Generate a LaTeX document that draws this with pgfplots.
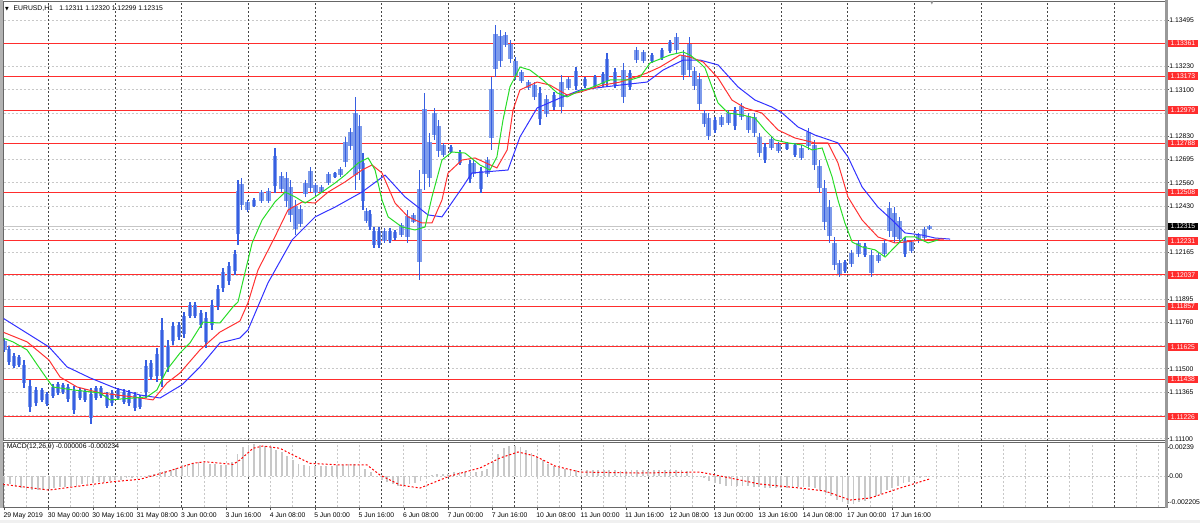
\documentclass[border=0pt]{standalone}
\usepackage{fontspec}
\setmainfont{Liberation Sans}
\newfontfamily\dejavu{DejaVu Sans}
\usepackage{pgfplots}
\usepackage{pgfplotstable}
\pgfplotsset{compat=1.18}

\definecolor{candle}{RGB}{55,95,225}
\definecolor{candlebody}{RGB}{125,155,235}
\definecolor{jaw}{RGB}{50,50,255}
\definecolor{teeth}{RGB}{255,50,50}
\definecolor{lips}{RGB}{40,220,40}
\definecolor{lvl}{RGB}{255,45,45}
\definecolor{gridl}{RGB}{200,200,200}
\definecolor{gridd}{RGB}{70,70,70}
\definecolor{histo}{RGB}{200,200,200}
\newcommand\cf{\fontsize{3.4pt}{4pt}\selectfont}

% EURUSD H1, bar index (0 = 29 May 08:00), high / low
\pgfplotstableread{
b h l
0 1.11676 1.11596
1.7 1.11630 1.11522
3.5 1.11590 1.11505
5.3 1.11579 1.11511
7.1 1.11550 1.11390
9.3 1.11436 1.11253
11.4 1.11396 1.11287
13.6 1.11390 1.11310
15.4 1.11367 1.11287
17.6 1.11413 1.11333
19.4 1.11425 1.11350
21.2 1.11419 1.11356
23.0 1.11413 1.11310
25.1 1.11402 1.11241
27.3 1.11390 1.11322
29.1 1.11384 1.11310
31.2 1.11390 1.11184
33.0 1.11402 1.11322
34.9 1.11402 1.11333
37.0 1.11367 1.11276
38.8 1.11379 1.11287
41.0 1.11390 1.11322
43.1 1.11384 1.11299
44.9 1.11379 1.11287
47.1 1.11367 1.11259
48.9 1.11350 1.11270
51.1 1.11550 1.11333
52.9 1.11550 1.11436
55.0 1.11619 1.11425
56.8 1.11790 1.11396
59.0 1.11665 1.11482
60.8 1.11767 1.11636
63.0 1.11767 1.11665
64.8 1.11825 1.11676
66.9 1.11882 1.11790
68.7 1.11882 1.11790
70.9 1.11836 1.11733
72.7 1.11825 1.11619
74.9 1.11894 1.11722
77.0 1.11980 1.11836
78.8 1.12077 1.11939
81.0 1.12111 1.11980
83.1 1.12180 1.12037
84.2 1.12580 1.12208
85.5 1.12591 1.12408
87.6 1.12465 1.12397
90.0 1.12477 1.12425
92.7 1.12523 1.12448
95.2 1.12534 1.12448
97.6 1.12763 1.12505
99.9 1.12626 1.12511
101.7 1.12626 1.12425
103.1 1.12580 1.12340
104.9 1.12465 1.12265
106.7 1.12437 1.12311
108.5 1.12580 1.12483
110.3 1.12655 1.12511
112.1 1.12563 1.12494
114.3 1.12551 1.12505
116.8 1.12626 1.12551
119.2 1.12626 1.12591
121.2 1.12655 1.12597
123.0 1.12826 1.12655
124.8 1.12877 1.12752
126.6 1.13055 1.12523
128.0 1.12952 1.12580
129.3 1.12734 1.12408
130.5 1.12420 1.12334
131.8 1.12408 1.12294
133.2 1.12311 1.12191
135.0 1.12311 1.12191
137.0 1.12305 1.12220
139.0 1.12305 1.12220
140.8 1.12294 1.12237
143.1 1.12334 1.12254
145.3 1.12408 1.12220
147.5 1.12391 1.12334
149.6 1.12637 1.12008
151.4 1.13078 1.12523
153.2 1.12849 1.12540
155.0 1.12992 1.12809
156.5 1.12923 1.12712
158.3 1.12792 1.12712
161.0 1.12780 1.12734
164.2 1.12752 1.12666
167.8 1.12694 1.12563
169.1 1.12694 1.12597
171.8 1.12655 1.12505
174.1 1.12712 1.12597
175.6 1.13169 1.12752
177.0 1.13466 1.13169
178.8 1.13438 1.13226
180.6 1.13426 1.13341
182.4 1.13381 1.13249
184.2 1.13283 1.13152
186.4 1.13209 1.13135
188.9 1.13152 1.13095
191.1 1.13140 1.13037
193.1 1.13112 1.12894
195.4 1.13066 1.12940
198.1 1.13083 1.12980
200.8 1.13180 1.12963
203.3 1.13169 1.13095
206.0 1.13226 1.13095
209.3 1.13169 1.13106
212.9 1.13180 1.13106
215.8 1.13198 1.13112
217.2 1.13306 1.13112
220.1 1.13220 1.13106
223.2 1.13249 1.13020
225.5 1.13209 1.13095
227.8 1.13341 1.13249
230.3 1.13323 1.13249
233.4 1.13306 1.13249
237.0 1.13335 1.13266
239.9 1.13381 1.13306
242.2 1.13421 1.13306
244.8 1.13323 1.13152
246.9 1.13398 1.13169
248.7 1.13226 1.13095
250.5 1.13192 1.12980
252.3 1.12980 1.12883
253.8 1.12963 1.12809
256.1 1.12940 1.12849
258.5 1.12952 1.12883
261.0 1.12980 1.12894
263.3 1.12997 1.12866
265.7 1.13020 1.12923
268.2 1.12963 1.12849
270.4 1.12963 1.12826
272.1 1.12849 1.12712
274.1 1.12792 1.12677
276.5 1.12826 1.12752
278.9 1.12797 1.12734
282.0 1.12797 1.12752
284.9 1.12792 1.12712
287.3 1.12780 1.12694
289.8 1.12877 1.12752
292.0 1.12809 1.12637
293.8 1.12694 1.12505
295.6 1.12580 1.12294
297.4 1.12465 1.12220
299.2 1.12254 1.12065
301.0 1.12122 1.12025
303.0 1.12122 1.12048
305.3 1.12180 1.12082
307.8 1.12237 1.12139
310.2 1.12220 1.12139
312.5 1.12180 1.12025
315.0 1.12163 1.12105
317.2 1.12237 1.12139
319.0 1.12454 1.12254
320.8 1.12425 1.12220
322.6 1.12369 1.12220
324.6 1.12254 1.12139
326.9 1.12237 1.12163
329.4 1.12277 1.12220
331.6 1.12311 1.12237
333.4 1.12322 1.12294
}\candles

\pgfplotstableread{
b p
-0.5 1.11790
16.1 1.11625
22.6 1.11511
30.9 1.11448
39.9 1.11390
48.9 1.11350
56.1 1.11333
64.0 1.11408
70.5 1.11511
77.7 1.11648
84.9 1.11676
87.8 1.11722
95.0 1.11991
103.7 1.12237
112.0 1.12369
119.2 1.12425
128.9 1.12511
137.2 1.12608
144.4 1.12483
152.7 1.12380
157.7 1.12369
164.9 1.12534
168.5 1.12620
181.5 1.12637
185.8 1.12826
192.0 1.12992
200.3 1.13049
207.5 1.13095
221.9 1.13123
231.6 1.13140
237.4 1.13209
244.6 1.13266
250.7 1.13266
257.2 1.13238
264.4 1.13112
270.5 1.13037
276.6 1.12997
280.3 1.12963
286.0 1.12883
292.1 1.12837
300.4 1.12792
304.0 1.12712
309.1 1.12540
314.8 1.12425
319.9 1.12351
324.6 1.12277
330.7 1.12265
335.4 1.12248
340.8 1.12242
}\jawdata

\pgfplotstableread{
b p
-0.5 1.11710
8.2 1.11654
16.1 1.11550
20.1 1.11453
26.2 1.11396
34.5 1.11362
46.4 1.11339
53.6 1.11322
58.6 1.11419
63.3 1.11476
70.5 1.11608
77.7 1.11710
84.9 1.11773
87.8 1.11877
91.4 1.12065
97.5 1.12254
102.2 1.12408
107.3 1.12454
112.0 1.12448
116.7 1.12511
122.8 1.12569
128.9 1.12637
132.5 1.12666
136.1 1.12620
140.8 1.12448
145.5 1.12369
150.5 1.12334
154.1 1.12334
157.7 1.12465
159.9 1.12620
164.9 1.12694
169.6 1.12706
177.5 1.12649
181.2 1.12752
183.3 1.12980
185.8 1.13095
192.0 1.13140
196.6 1.13123
202.8 1.13066
207.5 1.13083
215.7 1.13123
221.9 1.13140
231.6 1.13192
236.3 1.13226
243.5 1.13295
247.1 1.13283
251.8 1.13255
257.2 1.13163
262.2 1.13037
266.9 1.12992
273.0 1.12963
278.8 1.12866
284.9 1.12820
292.1 1.12792
296.8 1.12792
300.4 1.12677
304.0 1.12483
309.1 1.12351
314.8 1.12254
320.9 1.12220
324.6 1.12225
330.7 1.12237
338.6 1.12242
}\teethdata

\pgfplotstableread{
b p
-0.5 1.11676
3.1 1.11654
8.2 1.11608
13.9 1.11476
17.5 1.11396
24.8 1.11379
34.5 1.11362
38.1 1.11322
46.4 1.11333
51.4 1.11339
55.0 1.11379
58.6 1.11494
63.3 1.11590
66.9 1.11648
71.6 1.11767
77.7 1.11762
82.4 1.11854
84.2 1.11882
86.7 1.12048
89.3 1.12220
92.9 1.12351
97.5 1.12454
101.2 1.12511
104.8 1.12483
108.4 1.12448
112.0 1.12483
115.6 1.12523
119.2 1.12563
122.8 1.12608
127.5 1.12677
131.1 1.12706
133.6 1.12637
136.1 1.12465
138.3 1.12369
143.3 1.12311
148.0 1.12294
151.6 1.12311
154.1 1.12483
157.7 1.12694
161.3 1.12740
166.0 1.12734
171.4 1.12666
175.0 1.12637
177.5 1.12712
179.7 1.12923
182.2 1.13112
185.8 1.13226
189.4 1.13209
194.1 1.13152
199.2 1.13078
202.8 1.13055
206.4 1.13083
211.1 1.13106
218.3 1.13152
225.5 1.13152
229.1 1.13169
232.7 1.13249
239.9 1.13295
244.6 1.13312
247.1 1.13295
250.7 1.13249
252.5 1.13220
255.0 1.13112
257.2 1.13020
260.8 1.12963
265.9 1.12952
270.5 1.12934
274.1 1.12866
277.7 1.12809
282.4 1.12792
287.5 1.12780
291.1 1.12752
294.7 1.12763
298.3 1.12597
300.4 1.12465
302.9 1.12334
305.5 1.12225
309.1 1.12197
313.8 1.12180
317.4 1.12139
320.9 1.12197
324.6 1.12254
328.2 1.12254
332.9 1.12220
336.5 1.12237
}\lipsdata

% MACD main (histogram), every second bar
\pgfplotstableread{
b m
0 -0.0006
2 -0.0007
4 -0.0009
6 -0.0010
8 -0.0011
10 -0.0012
12 -0.0012
14 -0.0012
16 -0.0011
18 -0.0010
20 -0.0009
22 -0.0009
24 -0.0008
26 -0.0008
28 -0.0007
30 -0.0007
32 -0.0006
34 -0.0005
36 -0.0005
38 -0.0004
40 -0.0003
42 -0.0003
44 -0.0002
46 -0.0002
48 -0.0002
50 0.0000
52 0.0001
54 0.0002
56 0.0003
58 0.0004
60 0.0005
62 0.0007
64 0.0009
66 0.0010
68 0.0011
70 0.0012
72 0.0011
74 0.0010
76 0.0010
78 0.0009
80 0.0009
82 0.0012
84 0.0018
86 0.0024
88 0.0026
90 0.0027
92 0.0026
94 0.0025
96 0.0024
98 0.0022
100 0.0020
102 0.0017
104 0.0013
106 0.0010
108 0.0009
110 0.0008
112 0.0008
114 0.0008
116 0.0008
118 0.0008
120 0.0009
122 0.0009
124 0.0010
126 0.0010
128 0.0009
130 0.0006
132 0.0003
134 0.0000
136 -0.0003
138 -0.0005
140 -0.0007
142 -0.0008
144 -0.0008
146 -0.0007
148 -0.0006
150 -0.0004
152 -0.0001
154 0.0001
156 0.0002
158 0.0002
160 0.0002
162 0.0003
164 0.0003
166 0.0003
168 0.0003
170 0.0003
172 0.0004
174 0.0006
176 0.0012
178 0.0018
180 0.0023
182 0.0025
184 0.0025
186 0.0024
188 0.0022
190 0.0019
192 0.0016
194 0.0013
196 0.0010
198 0.0008
200 0.0007
202 0.0006
204 0.0005
206 0.0005
208 0.0005
210 0.0005
212 0.0005
214 0.0005
216 0.0005
218 0.0005
220 0.0005
222 0.0004
224 0.0004
226 0.0005
228 0.0005
230 0.0005
232 0.0005
234 0.0005
236 0.0005
238 0.0005
240 0.0005
242 0.0005
244 0.0005
246 0.0004
248 0.0002
250 0.0000
252 -0.0002
254 -0.0004
256 -0.0006
258 -0.0007
260 -0.0008
262 -0.0008
264 -0.0008
266 -0.0008
268 -0.0008
270 -0.0009
272 -0.0009
274 -0.0010
276 -0.0010
278 -0.0010
280 -0.0010
282 -0.0010
284 -0.0010
286 -0.0009
288 -0.0009
290 -0.0009
292 -0.0010
294 -0.0012
296 -0.0014
298 -0.0017
300 -0.0020
302 -0.0022
304 -0.0023
306 -0.0023
308 -0.0022
310 -0.0021
312 -0.0019
314 -0.0017
316 -0.0015
318 -0.0012
320 -0.0010
322 -0.0008
324 -0.0006
326 -0.0005
328 -0.0003
330 -0.0002
332 -0.0001
334 0.0000
}\macd

\pgfplotstableread{
b s
-0.5 -0.00069
16.1 -0.00117
39.2 -0.00047
48.9 -0.00027
58.6 0.00036
68.0 0.00106
72.3 0.00119
82.4 0.00097
84.9 0.00133
89.6 0.00231
93.2 0.00250
99.3 0.00231
104.0 0.00175
110.2 0.00106
120.9 0.00092
130.7 0.00092
135.4 0.00008
142.6 -0.00075
149.8 -0.00100
160.6 0.00000
171.4 0.00067
178.6 0.00150
185.1 0.00200
191.2 0.00167
198.5 0.00083
207.5 0.00033
229.1 0.00025
250.7 0.00033
258.0 0.00000
272.3 -0.00067
286.7 -0.00100
295.7 -0.00125
304.8 -0.00200
312.0 -0.00183
322.8 -0.00100
333.6 -0.00023
}\signal

\pgfplotsset{
  mtchart/.style={
    scale only axis, width=581.25pt,
    xmin=-0.29, xmax=418.6,
    axis line style={draw=black!60, line width=0.5pt},
    minor xtick={0,8,...,416}, xminorgrids=true,
    minor grid style={gridl, dash pattern=on 1pt off 1pt, line width=0.5pt},
    minor tick length=0pt,
    extra x ticks={16,40,...,400}, extra x tick labels={},
    extra x tick style={xmajorgrids=true, major tick length=0pt,
      major grid style={gridd, dash pattern=on 1pt off 1pt, line width=0.5pt}},
    major grid style={gridl, dash pattern=on 1pt off 1pt, line width=0.5pt},
    ytick pos=right, yticklabel pos=right, ytick align=outside,
    tick style={draw=black!70, line width=0.4pt},
    major tick length=1.5pt,
    tick label style={font=\cf, text=black},
    yticklabel style={anchor=west, inner sep=0pt},
    scaled y ticks=false,
    clip mode=individual,
  },
}
\tikzset{
  lvlbox/.style={fill=lvl, text=white, font=\cf, anchor=west, inner sep=0pt,
    minimum width=14.8pt, minimum height=3.8pt, xshift=0.85pt},
}

\begin{document}
\begin{tikzpicture}
\path[use as bounding box] (0,0) rectangle (600pt,-261.5pt);
\fill[black!30] (0,0) rectangle (1.4pt,-254pt);
\fill[black!6] (0,-260pt) rectangle (600pt,-261.5pt);

\begin{axis}[mtchart, at={(1.75pt,-1pt)}, anchor=north west, height=219.5pt,
  ymin=1.11087, ymax=1.13598,
  xtick=\empty,
  ytick={1.13495,1.13362,1.13229,1.13096,1.12963,1.12830,1.12697,1.12564,1.12431,1.12298,1.12165,1.12032,1.11899,1.11766,1.11633,1.11500,1.11366,1.11233,1.11100},
  yticklabels={1.13495,,1.13230,1.13100,,1.12830,1.12695,1.12560,1.12430,,1.12165,,1.11895,1.11760,,1.11500,1.11365,,1.11100},
  ymajorgrids=true]
  \addplot[gray!45, line width=0.5pt, forget plot] coordinates {(-1,1.12315) (420,1.12315)};
  \pgfplotsinvokeforeach{1.13361,1.13173,1.12979,1.12788,1.12508,1.12231,1.12037,1.11857,1.11625,1.11438,1.11226}{
    \addplot[lvl, line width=0.5pt, forget plot] coordinates {(-1,#1) (420,#1)};
  }
  % candle bodies (light) and wicks (dark)
  \addplot[draw=none, mark=none, forget plot,
    error bars/.cd, y dir=both, y explicit, error mark=none,
    error bar style={draw=candlebody, line width=2.3pt}]
    table[x=b, y expr={(\thisrow{h}+\thisrow{l})/2},
      y error plus expr={(\thisrow{h}-\thisrow{l})/3},
      y error minus expr={(\thisrow{h}-\thisrow{l})/3}] {\candles};
  \addplot[draw=none, mark=none, forget plot,
    error bars/.cd, y dir=both, y explicit, error mark=none,
    error bar style={draw=candle, line width=0.7pt}]
    table[x=b, y expr={(\thisrow{h}+\thisrow{l})/2},
      y error plus expr={(\thisrow{h}-\thisrow{l})/2},
      y error minus expr={(\thisrow{h}-\thisrow{l})/2}] {\candles};
  \addplot[jaw, line width=0.5pt] table[x=b, y=p] {\jawdata};
  \addplot[teeth, line width=0.5pt] table[x=b, y=p] {\teethdata};
  \addplot[lips, line width=0.5pt] table[x=b, y=p] {\lipsdata};
  \pgfplotsinvokeforeach{1.13361,1.13173,1.12979,1.12788,1.12508,1.12231,1.12037,1.11857,1.11625,1.11438,1.11226}{
    \node[lvlbox] at (axis cs:418.6,#1) {#1};
  }
  \node[lvlbox, fill=black] at (axis cs:418.6,1.12315) {1.12315};
\end{axis}

\begin{axis}[mtchart, at={(1.75pt,-221.5pt)}, anchor=north west, height=32pt,
  ymin=-0.00258, ymax=0.00275,
  xtick={0,16,...,320}, xtick pos=bottom, xtick align=outside,
  xticklabels={29 May 2019,30 May 00:00,30 May 16:00,31 May 08:00,3 Jun 00:00,3 Jun 16:00,4 Jun 08:00,5 Jun 00:00,5 Jun 16:00,6 Jun 08:00,7 Jun 00:00,7 Jun 16:00,10 Jun 08:00,11 Jun 00:00,11 Jun 16:00,12 Jun 08:00,13 Jun 00:00,13 Jun 16:00,14 Jun 08:00,17 Jun 00:00,17 Jun 16:00},
  xticklabel style={anchor=north west, inner sep=0pt, xshift=-0.6pt, yshift=-1.2pt},
  ytick={-0.002205,0,0.00239}, yticklabels={-0.002205,0.00,0.00239},
  extra y ticks={0}, extra y tick labels={},
  extra y tick style={ymajorgrids=true, major tick length=0pt}]
  \addplot[ycomb, histo, line width=0.9pt, mark=none] table[x=b, y=m] {\macd};
  \addplot[red, line width=0.5pt, dash pattern=on 1pt off 1pt] table[x=b, y=s] {\signal};
\end{axis}

\draw[black!40, line width=1.2pt] (583.3pt,0) -- (583.3pt,-253.8pt);
\node[anchor=west, inner sep=0pt, font=\cf] at (2.4pt,-4.15pt)
  {{\dejavu\fontsize{2.4pt}{3pt}\selectfont ▼}\hspace{2.4pt}EURUSD,H1\hspace{3.2pt}1.12311 1.12320 1.12299 1.12315};
\node[anchor=west, inner sep=0pt, font=\cf] at (3.2pt,-223.5pt)
  {MACD(12,26,9) -0.000006 -0.000234};
\node[inner sep=0pt, text=black!45] at (466pt,-1.6pt) {\dejavu\fontsize{2.4pt}{3pt}\selectfont ▼};
\end{tikzpicture}
\end{document}
